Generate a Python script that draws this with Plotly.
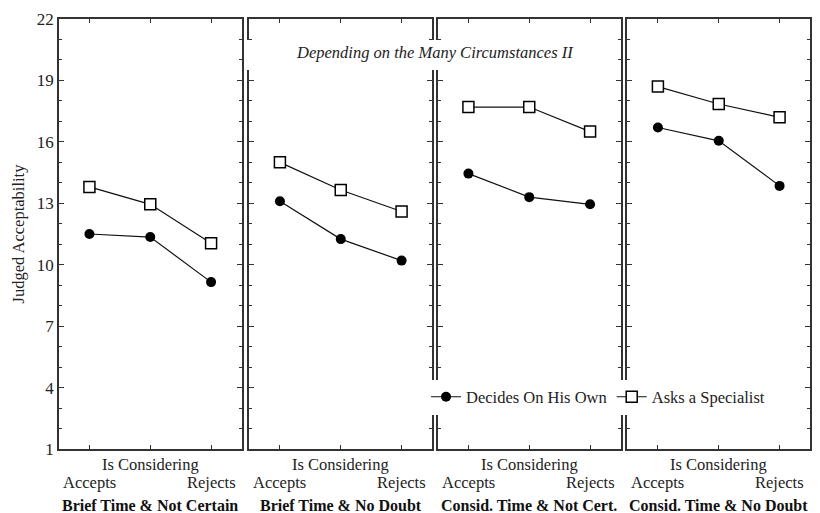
import plotly.graph_objects as go

conditions = ["Accepts", "Is Considering", "Rejects"]
panels = ["Brief Time & Not Certain", "Brief Time & No Doubt",
          "Consid. Time & Not Cert.", "Consid. Time & No Doubt"]
own = [
    [11.5, 11.35, 9.15],
    [13.1, 11.25, 10.2],
    [14.45, 13.3, 12.95],
    [16.7, 16.05, 13.85],
]
specialist = [
    [13.8, 12.95, 11.05],
    [15.0, 13.65, 12.6],
    [17.7, 17.7, 16.5],
    [18.7, 17.85, 17.2],
]
ytick_vals = [1, 4, 7, 10, 13, 16, 19, 22]
series_names = ["Decides On His Own", "Asks a Specialist"]
title_text = "Depending on the Many Circumstances II"
ytitle = "Judged Acceptability"

FONT = "Liberation Serif, Times New Roman, serif"
INK = "#222222"
FS = 16.5
W, H = 820, 513
L, R, T, B = 59, 8, 19, 64
pw = W - L - R
ph = H - T - B
px_domains = [(59, 242), (250, 433), (439, 622), (629, 812)]

def fx(px):
    return (px - L) / pw

def fy(py):
    return (H - B - py) / ph

fig = go.Figure()
xpos = [0, 1, 2]
for i in range(4):
    xa = "x" if i == 0 else f"x{i+1}"
    ya = "y" if i == 0 else f"y{i+1}"
    fig.add_trace(go.Scatter(
        x=xpos, y=own[i], xaxis=xa, yaxis=ya, mode="lines+markers",
        name=series_names[0], showlegend=(i == 0),
        line=dict(color="#111111", width=1.2),
        marker=dict(symbol="circle", size=10, color="#000000"),
    ))
    fig.add_trace(go.Scatter(
        x=xpos, y=specialist[i], xaxis=xa, yaxis=ya, mode="lines+markers",
        name=series_names[1], showlegend=(i == 0),
        line=dict(color="#111111", width=1.2),
        marker=dict(symbol="square", size=11, color="#ffffff",
                    line=dict(color="#000000", width=1.5)),
    ))

layout = dict(
    width=W, height=H,
    margin=dict(l=L, r=R, t=T, b=B),
    paper_bgcolor="white", plot_bgcolor="white",
    font=dict(family=FONT, color=INK, size=FS),
    showlegend=True,
    legend=dict(orientation="h", x=fx(427), y=fy(397), xanchor="left",
                yanchor="middle", bgcolor="white", borderwidth=0,
                font=dict(family=FONT, size=FS, color=INK),
                itemwidth=30, tracegroupgap=0),
)
for i in range(4):
    sx = "" if i == 0 else str(i + 1)
    d0, d1 = px_domains[i]
    layout["xaxis" + sx] = dict(
        domain=[fx(d0), fx(d1)], range=[-0.5, 2.5],
        anchor="y" + sx, showgrid=False, zeroline=False,
        showline=True, linecolor="#333333", linewidth=1.5, mirror="ticks",
        ticks="inside", ticklen=4, tickcolor="#333333",
        tickvals=xpos, showticklabels=False,
    )
    layout["yaxis" + sx] = dict(
        domain=[0, 1], range=[1, 22],
        anchor="x" + sx, showgrid=False, zeroline=False,
        showline=True, linecolor="#333333", linewidth=1.5, mirror="ticks",
        ticks="inside", ticklen=5, tickcolor="#333333",
        tickvals=ytick_vals, showticklabels=(i == 0),
        tickfont=dict(family=FONT, size=17, color=INK),
        minor=dict(dtick=1, ticks="inside", ticklen=3, tickcolor="#333333"),
    )
    if i > 0:
        layout["yaxis" + sx]["matches"] = "y"
layout["yaxis"]["title"] = dict(text=ytitle, font=dict(family=FONT, size=FS, color=INK),
                                standoff=8)
fig.update_layout(**layout)

anns = []
for i in range(4):
    xr = "x" if i == 0 else f"x{i+1}"
    anns.append(dict(x=1, y=fy(465), xref=xr, yref="paper", text=conditions[1],
                     showarrow=False, font=dict(family=FONT, size=FS, color=INK),
                     xanchor="center", yanchor="middle"))
    anns.append(dict(x=0, y=fy(482), xref=xr, yref="paper", text=conditions[0],
                     showarrow=False, font=dict(family=FONT, size=FS, color=INK),
                     xanchor="center", yanchor="middle"))
    anns.append(dict(x=2, y=fy(482), xref=xr, yref="paper", text=conditions[2],
                     showarrow=False, font=dict(family=FONT, size=FS, color=INK),
                     xanchor="center", yanchor="middle"))
    anns.append(dict(x=1, y=fy(505), xref=xr, yref="paper", text="<b>" + panels[i] + "</b>",
                     showarrow=False, font=dict(family=FONT, size=16, color="#111111"),
                     xanchor="center", yanchor="middle"))
anns.append(dict(x=fx(436), y=fy(53), xref="paper", yref="paper",
                 text="<i>" + title_text + "</i>", showarrow=False,
                 font=dict(family=FONT, size=FS, color=INK),
                 xanchor="center", yanchor="middle"))
fig.update_layout(annotations=anns)
fig.add_shape(type="rect", xref="paper", yref="paper",
              x0=fx(246), x1=fx(600), y0=fy(70), y1=fy(40),
              fillcolor="white", line=dict(width=0), layer="above")

fig.write_html("out.html", config={"displayModeBar": False},
               post_script="document.body.style.margin='0';document.body.style.overflow='hidden';")
